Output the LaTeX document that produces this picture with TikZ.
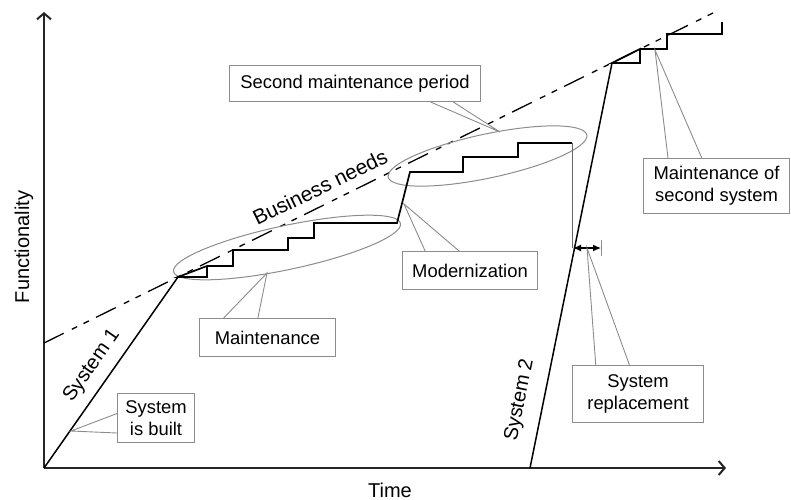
\documentclass[tikz,border=0pt]{standalone}
\usepackage{fontspec}
\setmainfont{Liberation Sans}
\usetikzlibrary{arrows.meta,calc}
\begin{document}
\begin{tikzpicture}[x=0.5pt, y=-0.5pt]
  \tikzstyle{box}=[draw=black!45, fill=white, line width=0.5pt, font=\fontsize{9.2}{10.8}\selectfont, align=center, inner sep=1pt, anchor=north west]
  \tikzstyle{lead}=[draw=black!45, line width=0.45pt]
  \tikzstyle{ring}=[draw=black!45, line width=0.5pt]
  \tikzstyle{lbl}=[font=\fontsize{10}{12}\selectfont]
  \tikzstyle{stair}=[line width=0.85pt, line join=miter]
  \tikzstyle{axis}=[black!85, line width=1pt, -{Straight Barb[length=3pt,width=7pt]}]

  \useasboundingbox (0,0) rectangle (791,499);

  % axes
  \coordinate (o) at (44,468);
  \draw[axis] (o) -- (44,12);
  \draw[axis] (o) -- (726,468);
  \node[lbl, rotate=90] (ylbl) at (24,247) {Functionality};
  \node[lbl] (xlbl) at (390,490) {Time};

  % business needs
  \draw[line width=0.65pt, dash pattern=on 11pt off 4.5pt on 3pt off 3.5pt on 3pt off 4pt] (44,343) -- (715,12);
  \node[lbl, font=\fontsize{10.4}{12}\selectfont, rotate=26] (bn) at (320,187) {Business needs};

  % maintenance periods
  \coordinate (e1) at (287,247.5);
  \coordinate (e2) at (487.5,156);
  \draw[ring, rotate around={12:(e1)}] (e1) ellipse [x radius=116, y radius=22];
  \draw[ring, rotate around={12:(e2)}] (e2) ellipse [x radius=101.5, y radius=22];

  % system 1
  \draw[line width=0.75pt] (o) -- (178,277);
  \node[lbl, rotate=55] (s1) at (92,366) {System 1};
  \draw[stair] (178,277) -- (207,277) -- (207,266) -- cycle;
  \draw[stair] (207,266) -- (233,266) -- (233,250) -- (288,250) -- (288,238) -- (314,238) -- (314,223) -- (397,223)
    -- (410,172) -- (463,172) -- (463,157) -- (518,157) -- (518,143) -- (572,143);
  \draw[black!60, line width=0.5pt] (572,143) -- (572,248);

  % system 2
  \draw[line width=0.75pt] (530,468) -- (612,63);
  \node[lbl, rotate=78.6] (s2) at (520,400) {System 2};
  \draw[stair] (612,63) -- (640,63) -- (640,49) -- cycle;
  \draw[stair] (640,49) -- (667,49) -- (667,34) -- (722,34) -- (722,22);

  % replacement gap
  \coordinate (ra) at (573,248);
  \coordinate (rb) at (601,248);
  \draw[line width=0.6pt, {Latex[length=4pt,width=3.5pt]}-{Latex[length=4pt,width=3.5pt]}] (ra) -- (rb);
  \draw[lead] (601,240) -- (601,256);

  % callout targets
  \coordinate (t2m) at (500,132);
  \coordinate (tm) at (267,273);
  \coordinate (tb) at (71,431);
  \coordinate (tmod) at (404,204);
  \coordinate (trep) at ($(ra)!0.5!(rb)$);
  \coordinate (tms) at (655,50);

  % boxes
  \node[box, minimum width=125.5pt, minimum height=18pt] (secbox) at (229,65) {Second maintenance period};
  \node[box, minimum width=68pt, minimum height=19pt] (mntbox) at (199,318) {Maintenance};
  \node[box, minimum width=38.5pt, minimum height=24.5pt] (bltbox) at (117,393) {System\\is built};
  \node[box, minimum width=67.5pt, minimum height=19pt] (modbox) at (402,251) {Modernization};
  \node[box, minimum width=65.5pt, minimum height=28.5pt] (repbox) at (572,365) {System\\replacement};
  \node[box, minimum width=73pt, minimum height=27.5pt] (msbox) at (643,158) {Maintenance of\\second system};

  % callouts
  \draw[lead] ($(secbox.south west)!0.80!(secbox.south east)$) -- (t2m) -- ($(secbox.south west)!0.89!(secbox.south east)$);
  \draw[lead] ($(mntbox.north west)!0.18!(mntbox.north east)$) -- (tm) -- ($(mntbox.north west)!0.43!(mntbox.north east)$);
  \draw[lead] ($(bltbox.north west)!0.41!(bltbox.south west)$) -- (tb) -- ($(bltbox.north west)!0.80!(bltbox.south west)$);
  \draw[lead] ($(modbox.north west)!0.17!(modbox.north east)$) -- (tmod) -- ($(modbox.north west)!0.42!(modbox.north east)$);
  \draw[lead] ($(repbox.north west)!0.18!(repbox.north east)$) -- (trep) -- ($(repbox.north west)!0.435!(repbox.north east)$);
  \draw[lead] ($(msbox.north west)!0.17!(msbox.north east)$) -- (tms) -- ($(msbox.north west)!0.40!(msbox.north east)$);
\end{tikzpicture}
\end{document}
